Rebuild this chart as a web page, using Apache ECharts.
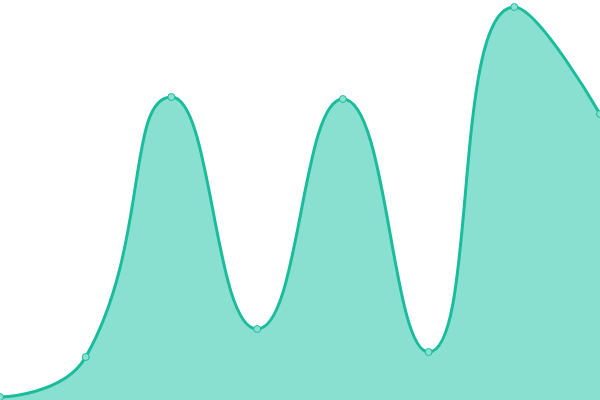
<!DOCTYPE html>
<html><head><meta charset="utf-8">
<script src="https://cdn.jsdelivr.net/npm/echarts@6/dist/echarts.min.js"></script>
<style>html,body{margin:0;padding:0;background:#fff}#c{width:600px;height:400px}</style>
</head><body><div id="c"></div>
<script>
var categories = ['A','B','C','D','E','F','G','H'];
var values = [3, 43, 303, 71, 301, 48, 393, 286];
var chart = echarts.init(document.getElementById('c'));
chart.setOption({
  animation: false,
  grid: {left: 0, right: 0, top: 0, bottom: 0},
  xAxis: {type: 'category', data: categories, boundaryGap: false, show: false},
  yAxis: {type: 'value', min: 0, max: 400, show: false},
  series: [{
    type: 'line',
    data: values,
    smooth: true,
    symbol: 'circle',
    symbolSize: 7,
    itemStyle: {color: '#8ae0d0', borderColor: '#1abc9c', borderWidth: 1},
    lineStyle: {color: '#1abc9c', width: 3},
    areaStyle: {color: '#8ae0d0', opacity: 1}
  }]
});
</script></body></html>
